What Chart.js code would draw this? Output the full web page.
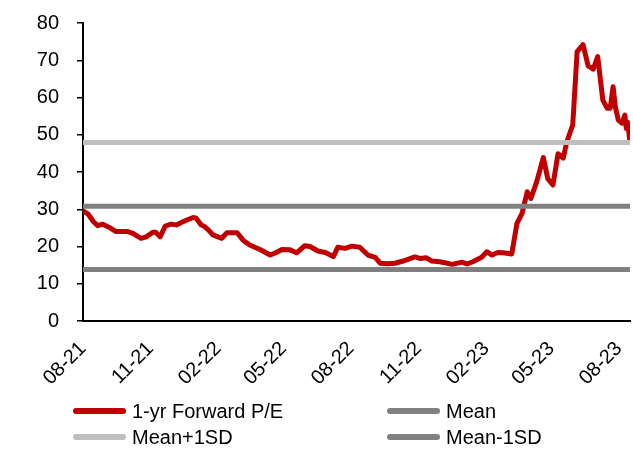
<!DOCTYPE html>
<html>
<head>
<meta charset="utf-8">
<script src="https://cdn.jsdelivr.net/npm/chart.js@4.4.1/dist/chart.umd.min.js"></script>
<style>
    body { margin: 0; background: #fff; }
    #wrap { position: relative; width: 633px; height: 451px; }
    #legend {
        position: absolute; left: 73px; top: 398px;
        display: grid; grid-template-columns: 314px 200px;
        font: 20px "Liberation Sans", Arial, sans-serif; color: #000;
    }
    .item { display: flex; align-items: center; height: 26px; }
    .swatch { width: 53px; height: 6px; border-radius: 3px; margin-right: 6px; }
</style>
</head>
<body>
<div id="wrap">
    <canvas id="peChart" width="633" height="451"></canvas>
    <div id="legend"></div>
</div>
<script>
// x positions are days since 1 Aug 2021
const tickDays = [0, 92, 184, 273, 365, 457, 549, 638, 730];
const tickLabels = ['08-21', '11-21', '02-22', '05-22', '08-22', '11-22', '02-23', '05-23', '08-23'];

const peDays = [0, 7, 14, 20, 27, 37, 45, 61, 68, 79,
    86, 95, 99, 105, 112, 120, 127, 139, 150, 154,
    161, 166, 170, 177, 189, 196, 210, 218, 227, 241,
    255, 261, 271, 282, 291, 302, 309, 320, 330, 341,
    347, 357, 366, 377, 388, 398, 405, 414, 425, 436,
    452, 459, 467, 475, 486, 496, 503, 516, 523, 531,
    543, 550, 557, 565, 572, 584, 591, 598, 605, 610,
    618, 627, 633, 640, 647, 654, 659, 663, 667, 673,
    681, 688, 695, 701, 708, 714, 718, 722, 725, 729,
    734, 738, 740, 742, 745];
const peValues = [29.6, 28.7, 26.7, 25.6, 26.0, 25.0, 24.0, 24.0, 23.5, 22.2,
    22.6, 23.8, 23.8, 22.6, 25.5, 26.0, 25.8, 26.9, 27.8, 27.6,
    25.8, 25.3, 24.6, 23.1, 22.2, 23.7, 23.7, 21.7, 20.4, 19.2,
    17.7, 18.2, 19.2, 19.1, 18.3, 20.2, 20.0, 18.8, 18.4, 17.3,
    19.8, 19.5, 20.1, 19.8, 17.7, 17.1, 15.5, 15.4, 15.5, 16.1,
    17.2, 16.8, 17.0, 16.1, 15.9, 15.5, 15.2, 15.8, 15.3, 15.9,
    17.1, 18.6, 17.7, 18.4, 18.3, 18.0, 26.2, 28.9, 34.7, 32.9,
    37.4, 43.9, 38.2, 36.5, 44.9, 43.7, 48.1, 50.4, 52.6, 72.3,
    74.2, 68.5, 67.6, 71.0, 59.3, 57.1, 57.1, 62.9, 57.5, 54.0,
    53.1, 55.3, 51.7, 53.3, 47.8];

const bandNames = ['Mean', 'Mean+1SD', 'Mean-1SD'];
const bandValues = [30.8, 47.9, 13.8];
const bandColors = ['#808080', '#BFBFBF', '#808080'];

const xMin = 0, xMax = 745;
const fontFamily = '"Liberation Sans", Arial, sans-serif';

const datasets = [{
    label: '1-yr Forward P/E',
    data: peDays.map((d, i) => ({ x: d, y: peValues[i] })),
    borderColor: '#C00000',
    borderWidth: 5,
    borderJoinStyle: 'round',
    pointRadius: 0,
    tension: 0,
    order: 1
}];
bandNames.forEach((name, i) => {
    datasets.push({
        label: name,
        data: [{ x: xMin, y: bandValues[i] }, { x: xMax, y: bandValues[i] }],
        borderColor: bandColors[i],
        borderWidth: 5,
        pointRadius: 0,
        order: 0
    });
});

const ctx = document.getElementById('peChart').getContext('2d');
const peChart = new Chart(ctx, {
    type: 'line',
    data: { datasets: datasets },
    options: {
        responsive: false,
        animation: false,
        devicePixelRatio: 1,
        layout: { padding: { top: 23, right: 3, bottom: 62, left: 0 } },
        plugins: { legend: { display: false }, tooltip: { enabled: false } },
        scales: {
            x: {
                type: 'linear',
                min: xMin,
                max: xMax,
                afterBuildTicks: scale => {
                    scale.ticks = tickDays.map(d => ({ value: d }));
                },
                afterFit: scale => {
                    scale.height = 68;
                    scale.paddingLeft = 0;
                    scale.paddingRight = 0;
                },
                grid: { display: true, drawOnChartArea: false, drawTicks: false },
                border: { display: true, color: '#000', width: 2 },
                ticks: {
                    autoSkip: false,
                    maxRotation: 45,
                    minRotation: 45,
                    padding: 16,
                    color: '#000',
                    font: { family: fontFamily, size: 20 },
                    callback: value => tickLabels[tickDays.indexOf(value)]
                }
            },
            y: {
                min: 0,
                max: 80,
                afterFit: scale => {
                    scale.width = 83;
                    scale.paddingTop = 0;
                    scale.paddingBottom = 0;
                },
                grid: { drawOnChartArea: false, drawTicks: true, tickLength: 6, color: '#000', lineWidth: 1.5 },
                border: { display: true, color: '#000', width: 2 },
                ticks: {
                    stepSize: 10,
                    padding: 18,
                    color: '#000',
                    font: { family: fontFamily, size: 20 }
                }
            }
        }
    }
});

// two-column legend like the original
const legend = document.getElementById('legend');
const legendOrder = [0, 1, 2, 3];
legendOrder.forEach(i => {
    const ds = datasets[i];
    const item = document.createElement('div');
    item.className = 'item';
    item.innerHTML = '<span class="swatch" style="background:' + ds.borderColor + '"></span><span>' + ds.label + '</span>';
    legend.appendChild(item);
});
</script>
</body>
</html>
